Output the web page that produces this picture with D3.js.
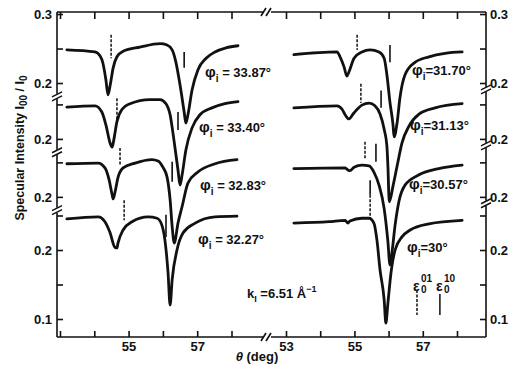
<!DOCTYPE html>
<html>
<head>
<meta charset="utf-8">
<script src="https://cdn.jsdelivr.net/npm/d3@7"></script>
<style>
  body { margin: 0; background: #fff; }
  text { font-family: "Liberation Sans", Arial, sans-serif; font-weight: bold; fill: #111; }
</style>
</head>
<body>
<svg id="chart" width="510" height="369"></svg>
<script>
// specular intensity vs theta; each curve shifted up by its offset
const phiLeft = ["33.87", "33.40", "32.83", "32.27"];
const phiRight = ["31.70", "31.13", "30.57", "30"];
const offsets = [0.242, 0.161, 0.077, 0];
const xTicks = [53, 54, 55, 56, 57, 58];
const segTicks = [[0.3, 0.25, 0.2], [0.25, 0.2], [0.25, 0.2], [0.25, 0.2, 0.15, 0.1]];

const curveL1 = [[53.20,0.248],[54.02,0.245],[54.17,0.239],[54.25,0.229],[54.34,0.204],[54.40,0.183],[54.46,0.196],[54.55,0.222],[54.66,0.238],[54.84,0.246],[55.33,0.252],[55.92,0.257],[56.12,0.255],[56.27,0.248],[56.38,0.230],[56.50,0.197],[56.62,0.158],[56.67,0.142],[56.73,0.154],[56.85,0.190],[57.02,0.219],[57.26,0.236],[57.52,0.245],[57.84,0.251],[58.19,0.254]];
const curveL2 = [[53.20,0.246],[54.02,0.248],[54.22,0.239],[54.34,0.220],[54.46,0.194],[54.52,0.188],[54.57,0.199],[54.66,0.225],[54.81,0.243],[55.04,0.251],[55.62,0.257],[55.92,0.257],[56.09,0.251],[56.21,0.235],[56.32,0.199],[56.44,0.155],[56.50,0.133],[56.56,0.148],[56.67,0.184],[56.85,0.216],[57.08,0.235],[57.43,0.245],[57.81,0.251],[58.19,0.254]];
const curveL3 = [[53.20,0.248],[54.11,0.249],[54.31,0.242],[54.43,0.225],[54.52,0.203],[54.55,0.197],[54.60,0.206],[54.69,0.228],[54.84,0.242],[55.19,0.249],[55.68,0.254],[55.86,0.252],[56.00,0.243],[56.12,0.229],[56.21,0.196],[56.27,0.157],[56.33,0.133],[56.44,0.162],[56.56,0.186],[56.73,0.220],[57.02,0.236],[57.52,0.248],[58.16,0.254]];
const curveL4 = [[53.20,0.245],[54.11,0.248],[54.31,0.241],[54.46,0.225],[54.60,0.204],[54.66,0.203],[54.69,0.210],[54.84,0.229],[55.10,0.241],[55.57,0.248],[55.83,0.246],[55.97,0.236],[56.06,0.214],[56.15,0.167],[56.21,0.120],[56.27,0.157],[56.41,0.200],[56.59,0.225],[56.94,0.239],[57.52,0.248],[58.16,0.249]];

const curveR1 = [[53.23,0.241],[54.49,0.245],[54.58,0.238],[54.70,0.223],[54.78,0.210],[54.84,0.216],[54.99,0.236],[55.22,0.245],[55.46,0.248],[55.72,0.245],[55.87,0.236],[55.95,0.212],[56.04,0.172],[56.13,0.139],[56.16,0.122],[56.25,0.143],[56.33,0.178],[56.48,0.212],[56.77,0.230],[57.18,0.238],[57.65,0.243],[58.15,0.245]];
const curveR2 = [[53.23,0.245],[54.49,0.248],[54.64,0.243],[54.73,0.235],[54.84,0.229],[54.99,0.238],[55.22,0.249],[55.43,0.252],[55.60,0.248],[55.75,0.236],[55.87,0.214],[55.95,0.190],[55.98,0.160],[56.02,0.109],[56.13,0.132],[56.25,0.161],[56.39,0.194],[56.60,0.219],[56.89,0.236],[57.36,0.245],[58.15,0.251]];
const curveR3 = [[53.23,0.241],[54.73,0.242],[54.81,0.239],[54.87,0.238],[54.99,0.243],[55.22,0.246],[55.43,0.245],[55.57,0.236],[55.72,0.217],[55.87,0.183],[55.98,0.135],[56.04,0.101],[56.10,0.120],[56.19,0.159],[56.30,0.193],[56.48,0.217],[56.89,0.232],[57.47,0.241],[58.15,0.246]];
const curveR4 = [[53.23,0.239],[54.26,0.241],[54.73,0.243],[54.81,0.239],[54.87,0.242],[55.22,0.246],[55.43,0.246],[55.57,0.239],[55.66,0.214],[55.75,0.171],[55.87,0.128],[55.92,0.094],[55.98,0.123],[56.07,0.167],[56.19,0.200],[56.39,0.219],[56.63,0.229],[57.18,0.238],[58.15,0.243]];

// resonance markers: [theta, top, bottom]
const eps01Left = [[54.49,0.270,0.236],[54.66,0.259,0.225],[54.75,0.271,0.246],[54.87,0.272,0.243]];
const eps10Left = [[56.62,0.245,0.222],[56.44,0.239,0.213],[56.27,0.251,0.222],[56.09,0.251,0.219]];
const eps01Right = [[55.08,0.270,0.248],[55.19,0.280,0.252],[55.31,0.280,0.254],[55.46,0.280,0.248]];
const eps10Right = [[56.04,0.255,0.230],[55.78,0.270,0.245],[55.63,0.277,0.251],[55.46,0.301,0.280]];

const leftCurves = [curveL1, curveL2, curveL3, curveL4];
const rightCurves = [curveR1, curveR2, curveR3, curveR4];

const svg = d3.select("#chart");
const plotTop = 12, plotBottom = 337, plotLeft = 57, plotRight = 486, breakX = 267;

const xL = d3.scaleLinear().domain([53, 58]).range([60, 231.5]);
const xR = d3.scaleLinear().domain([53, 58]).range([286, 457]);
const y = d3.scaleLinear().domain([0.1, 0.2]).range([319, 250]);

// frame
const frame = svg.append("g").attr("stroke", "#111").attr("stroke-width", 1.6).attr("fill", "none");
frame.append("line").attr("x1", plotLeft).attr("x2", plotLeft).attr("y1", plotTop).attr("y2", plotBottom);
frame.append("line").attr("x1", plotRight).attr("x2", plotRight).attr("y1", plotTop).attr("y2", plotBottom);
[plotTop, plotBottom].forEach(yy => {
  frame.append("line").attr("x1", plotLeft).attr("x2", breakX - 4).attr("y1", yy).attr("y2", yy);
  frame.append("line").attr("x1", breakX + 4).attr("x2", plotRight).attr("y1", yy).attr("y2", yy);
  frame.append("line").attr("x1", breakX - 6).attr("y1", yy + 4).attr("x2", breakX - 1).attr("y2", yy - 4);
  frame.append("line").attr("x1", breakX - 1).attr("y1", yy + 4).attr("x2", breakX + 4).attr("y2", yy - 4);
});

// x axes
function xAxes(scale, labelled) {
  svg.append("g").attr("transform", `translate(0,${plotBottom})`)
    .call(d3.axisBottom(scale).tickValues(xTicks).tickSize(-6).tickPadding(5)
      .tickFormat(d => labelled.includes(d) ? d : ""))
    .call(g => g.select(".domain").remove())
    .call(g => g.selectAll("line").attr("stroke", "#111").attr("stroke-width", 1.6))
    .call(g => g.selectAll("text").attr("font-size", 13));
  svg.append("g").attr("transform", `translate(0,${plotTop})`)
    .call(d3.axisTop(scale).tickValues(xTicks).tickSize(-7).tickFormat(""))
    .call(g => g.select(".domain").remove())
    .call(g => g.selectAll("line").attr("stroke", "#111").attr("stroke-width", 1.6));
}
xAxes(xL, [55, 57]);
xAxes(xR, [53, 55, 57]);

// y axes with one segment per curve
const yTickData = segTicks.flatMap((ts, k) => ts.map(v => ({ pos: +(v + offsets[k]).toFixed(3), v })));
const yLabel = new Map(yTickData.map(d => [d.pos, [0.3, 0.2, 0.1].includes(d.v) ? d3.format(".1f")(d.v) : ""]));

svg.append("g").attr("transform", `translate(${plotLeft},0)`)
  .call(d3.axisLeft(y).tickValues(yTickData.map(d => d.pos)).tickSize(-6).tickPadding(5)
    .tickFormat(d => yLabel.get(d)))
  .call(g => g.select(".domain").remove())
  .call(g => g.selectAll("line").attr("stroke", "#111").attr("stroke-width", 1.6))
  .call(g => g.selectAll("text").attr("font-size", 13));
svg.append("g").attr("transform", `translate(${plotRight},0)`)
  .call(d3.axisRight(y).tickValues(yTickData.map(d => d.pos)).tickSize(-6).tickPadding(4)
    .tickFormat(d => yLabel.get(d)))
  .call(g => g.select(".domain").remove())
  .call(g => g.selectAll("line").attr("stroke", "#111").attr("stroke-width", 1.6))
  .call(g => g.selectAll("text").attr("font-size", 13));

// axis breaks between segments
function yBreak(xx, v) {
  const yy = y(v);
  svg.append("rect").attr("x", xx - 3).attr("y", yy - 3).attr("width", 6).attr("height", 5).attr("fill", "#fff");
  const b = svg.append("g").attr("stroke", "#111").attr("stroke-width", 1.5);
  b.append("line").attr("x1", xx - 5).attr("y1", yy).attr("x2", xx + 5).attr("y2", yy - 5);
  b.append("line").attr("x1", xx - 5).attr("y1", yy + 4).attr("x2", xx + 5).attr("y2", yy - 1);
}
offsets.slice(0, 3).forEach(o => {
  yBreak(plotLeft, 0.18 + o);
  yBreak(plotRight, 0.19 + o);
});

// curves
function drawPanel(scale, curves, eps01, eps10) {
  curves.forEach((c, k) => {
    const line = d3.line().x(d => scale(d[0])).y(d => y(d[1] + offsets[k])).curve(d3.curveMonotoneX);
    svg.append("path").datum(c).attr("d", line)
      .attr("fill", "none").attr("stroke", "#111").attr("stroke-width", 2.8)
      .attr("stroke-linejoin", "round").attr("stroke-linecap", "round");
  });
  svg.append("g").selectAll("line").data(eps01).join("line")
    .attr("x1", d => scale(d[0])).attr("x2", d => scale(d[0]))
    .attr("y1", (d, k) => y(d[1] + offsets[k])).attr("y2", (d, k) => y(d[2] + offsets[k]))
    .attr("stroke", "#111").attr("stroke-width", 1.5).attr("stroke-dasharray", "3,1.5");
  svg.append("g").selectAll("line").data(eps10).join("line")
    .attr("x1", d => scale(d[0])).attr("x2", d => scale(d[0]))
    .attr("y1", (d, k) => y(d[1] + offsets[k])).attr("y2", (d, k) => y(d[2] + offsets[k]))
    .attr("stroke", "#111").attr("stroke-width", 1.6);
}
drawPanel(xL, leftCurves, eps01Left, eps10Left);
drawPanel(xR, rightCurves, eps01Right, eps10Right);

// phi labels
function phiLabel(xx, yy, val, sep) {
  const t = svg.append("text").attr("x", xx).attr("y", yy).attr("font-size", 13);
  t.append("tspan").text("φ").attr("font-size", 15);
  t.append("tspan").text("i").attr("dy", 5).attr("font-size", 10);
  t.append("tspan").text(sep + "=" + sep + val + "°").attr("dy", -5);
}
const leftLabelPos = [[205, 77], [199, 132], [200, 190], [198, 244]];
const rightLabelPos = [[412, 75], [410, 130], [409, 189], [407, 252]];
phiLeft.forEach((p, k) => phiLabel(leftLabelPos[k][0], leftLabelPos[k][1], p, " "));
phiRight.forEach((p, k) => phiLabel(rightLabelPos[k][0], rightLabelPos[k][1], p, ""));

// k_i label
const kt = svg.append("text").attr("x", 247).attr("y", 298).attr("font-size", 13);
kt.append("tspan").text("k");
kt.append("tspan").text("I").attr("dy", 4).attr("font-size", 9);
kt.append("tspan").text(" =6.51 Å").attr("dy", -4);
kt.append("tspan").text("−1").attr("dy", -6).attr("font-size", 9);

// epsilon legend
function epsKey(xx, sup, dashed) {
  svg.append("text").attr("x", xx - 4).attr("y", 291).attr("font-size", 14).text("ε");
  svg.append("text").attr("x", xx + 4).attr("y", 282).attr("font-size", 10).text(sup);
  svg.append("text").attr("x", xx + 4).attr("y", 293).attr("font-size", 10).text("0");
  svg.append("line").attr("x1", xx).attr("x2", xx).attr("y1", dashed ? 290 : 294).attr("y2", 315)
    .attr("stroke", "#111").attr("stroke-width", 1.5).attr("stroke-dasharray", dashed ? "3,1.5" : null);
}
epsKey(xR(56.83), "01", true);
epsKey(xR(57.5), "10", false);

// axis titles
const xt = svg.append("text").attr("x", 257).attr("y", 361).attr("text-anchor", "middle").attr("font-size", 13);
xt.append("tspan").text("θ").attr("font-style", "italic");
xt.append("tspan").text(" (deg)");

const yt = svg.append("text").attr("transform", "translate(24,148) rotate(-90)")
  .attr("text-anchor", "middle").attr("font-size", 12.5);
yt.append("tspan").text("Specular Intensity  I");
yt.append("tspan").text("00").attr("dy", 3).attr("font-size", 10);
yt.append("tspan").text(" / I").attr("dy", -3);
yt.append("tspan").text("0").attr("dy", 3).attr("font-size", 10);
</script>
</body>
</html>
